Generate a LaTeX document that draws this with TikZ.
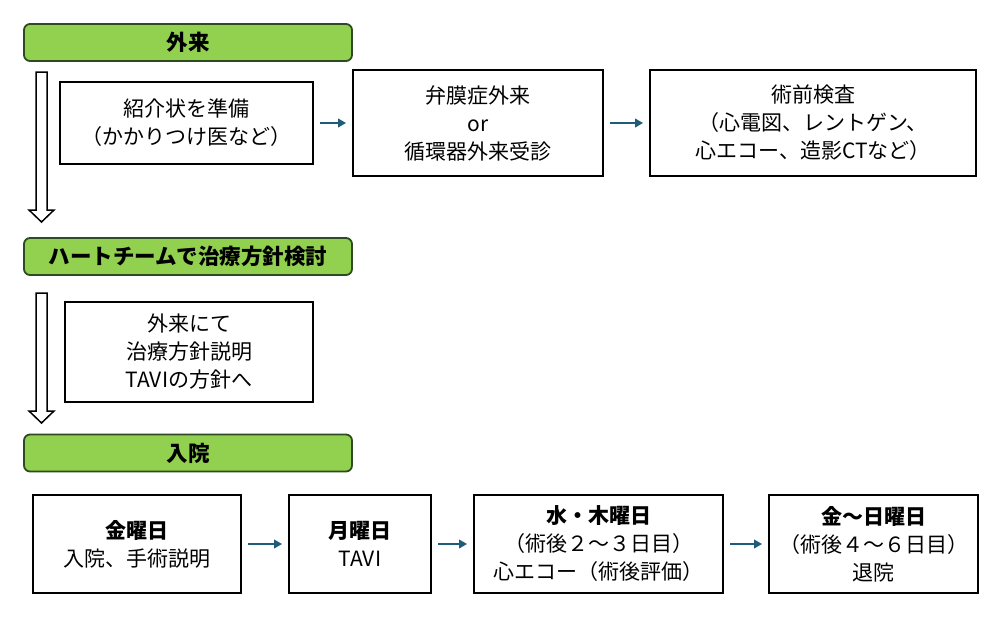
\documentclass[tikz,border=0pt]{standalone}
\usepackage{fontspec}
\setmainfont{Noto Sans CJK JP}
\usetikzlibrary{arrows.meta}
\definecolor{headgreen}{HTML}{92D050}
\definecolor{headedge}{HTML}{2E4A22}
\definecolor{flowblue}{HTML}{1F5C7A}

\begin{document}
\begin{tikzpicture}[x=1pt, y=-1pt,
    stage/.style={draw=headedge, fill=headgreen, rounded corners=6pt,
      line width=1.8pt, minimum width=328pt, minimum height=37pt,
      inner sep=0pt, font=\fontsize{21.5}{24}\selectfont\bfseries},
    box/.style={draw, line width=1.8pt, align=center, inner sep=0pt,
      font=\fontsize{21}{28}\selectfont}, % plain step box
    flow/.style={draw=flowblue, line width=2.4pt,
      -{Triangle[length=8pt,width=8.5pt]}, shorten <=6pt, shorten >=6pt},
    hollow/.style={draw, line width=1.5pt, fill=white}
   ]
    \useasboundingbox (0,0) rectangle (1000,618);

    % headings
    \node[stage] (gairai) at (188,42.5) {外来};
    \node[stage] (team) at (188,256.5) {ハートチームで治療方針検討};
    \node[stage] (nyuin) at (188,453) {入院};

    % outpatient row
    \node[box, minimum width=253pt, minimum height=82pt] (shokai) at (186.5,123)
      {紹介状を準備\\（かかりつけ医など）};
    \node[box, minimum width=250pt, minimum height=106pt] (jushin) at (478,123)
      {弁膜症外来\\or\\循環器外来受診};
    \node[box, minimum width=326pt, minimum height=106pt] (kensa) at (813,123)
      {術前検査\\（心電図、レントゲン、\\心エコー、造影CTなど）};
    \draw[flow] (shokai) -- (jushin);
    \draw[flow] (jushin) -- (kensa);

    % explanation
    \node[box, minimum width=248pt, minimum height=100pt] (setsumei) at (189,352)
      {外来にて\\治療方針説明\\TAVIの方針へ};

    % admission row
    \node[box, minimum width=208pt, minimum height=98pt] (kin) at (137,544)
      {\textbf{金曜日}\\入院、手術説明};
    \node[box, minimum width=142pt, minimum height=98pt] (getsu) at (360,544)
      {\textbf{月曜日}\\TAVI};
    \node[box, minimum width=249pt, minimum height=98pt] (suimoku) at (598.5,544)
      {\textbf{水・木曜日}\\（術後２～３日目）\\心エコー（術後評価）};
    \node[box, minimum width=209pt, minimum height=98pt] (taiin) at (873.5,544)
      {\textbf{金～日曜日}\\（術後４～６日目）\\退院};
    \draw[flow] (kin) -- (getsu);
    \draw[flow] (getsu) -- (suimoku);
    \draw[flow] (suimoku) -- (taiin);

    % hollow down arrows
    \coordinate (top1) at (41.5,72);
    \coordinate (tip1) at (41.5,222);
    \coordinate (top2) at (41.5,293);
    \coordinate (tip2) at (41.5,423);
    \foreach \t/\p in {top1/tip1, top2/tip2}
      \draw[hollow] ([xshift=-5.5pt]\t) -- ([xshift=-5.5pt,yshift=12pt]\p)
        -- ([xshift=-12.5pt,yshift=12pt]\p) -- (\p)
        -- ([xshift=12.5pt,yshift=12pt]\p) -- ([xshift=5.5pt,yshift=12pt]\p)
        -- ([xshift=5.5pt]\t) -- cycle;
\end{tikzpicture}
\end{document}
